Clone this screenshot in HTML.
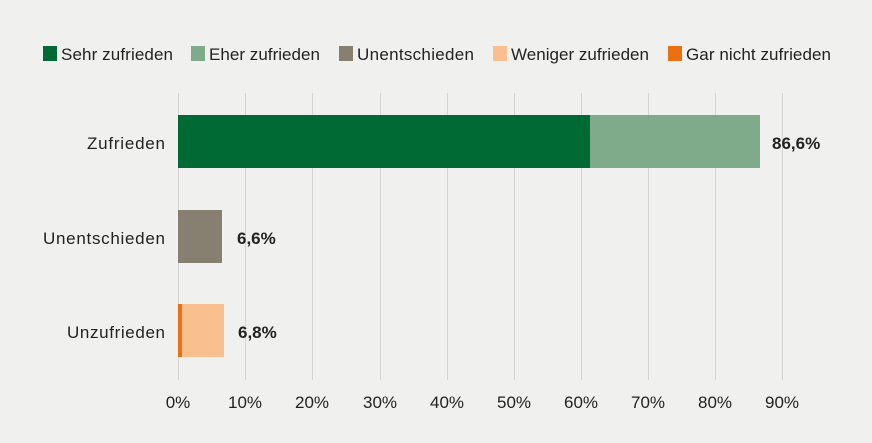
<!DOCTYPE html>
<html><head><style>
html,body{margin:0;padding:0;background:#f0f1ef;}
svg{display:block;font-family:"Liberation Sans",sans-serif;}
</style></head><body>
<svg width="872" height="443" viewBox="0 0 872 443">
<rect width="872" height="443" fill="#f0f1ef"/>
<g font-size="17" fill="#222">
<rect x="43" y="46" width="14" height="15" fill="#006a35"/><text x="61" y="60" textLength="112">Sehr zufrieden</text>
<rect x="191" y="46" width="14" height="15" fill="#80ab8a"/><text x="209" y="60" textLength="111">Eher zufrieden</text>
<rect x="339" y="46" width="14" height="15" fill="#878070"/><text x="357" y="60" textLength="117">Unentschieden</text>
<rect x="493" y="46" width="14" height="15" fill="#f9bf8e"/><text x="511" y="60" textLength="138">Weniger zufrieden</text>
<rect x="668" y="46" width="14" height="15" fill="#ea7012"/><text x="686" y="60" textLength="145">Gar nicht zufrieden</text>
</g>
<g stroke="#d4d4d0" stroke-width="1">
<line x1="178.5" y1="93" x2="178.5" y2="380"/>
<line x1="245.5" y1="93" x2="245.5" y2="380"/>
<line x1="312.5" y1="93" x2="312.5" y2="380"/>
<line x1="380.5" y1="93" x2="380.5" y2="380"/>
<line x1="447.5" y1="93" x2="447.5" y2="380"/>
<line x1="514.5" y1="93" x2="514.5" y2="380"/>
<line x1="581.5" y1="93" x2="581.5" y2="380"/>
<line x1="648.5" y1="93" x2="648.5" y2="380"/>
<line x1="715.5" y1="93" x2="715.5" y2="380"/>
<line x1="782.5" y1="93" x2="782.5" y2="380"/>
</g>
<rect x="178" y="115" width="412" height="53" fill="#006a35"/>
<rect x="590" y="115" width="170" height="53" fill="#80ab8a"/>
<rect x="178" y="210" width="44" height="53" fill="#878070"/>
<rect x="178" y="304" width="4" height="53" fill="#ea7012"/>
<rect x="182" y="304" width="42" height="53" fill="#f9bf8e"/>
<g font-size="17" fill="#222">
<text x="87" y="149" textLength="78">Zufrieden</text>
<text x="43" y="244" textLength="122">Unentschieden</text>
<text x="67" y="338" textLength="98">Unzufrieden</text>
</g>
<g font-size="17" fill="#222" font-weight="bold">
<text x="772" y="149">86,6%</text>
<text x="237" y="244">6,6%</text>
<text x="238" y="338">6,8%</text>
</g>
<g font-size="17" fill="#222" text-anchor="middle">
<text x="178" y="408">0%</text><text x="245" y="408">10%</text><text x="312" y="408">20%</text>
<text x="380" y="408">30%</text><text x="447" y="408">40%</text><text x="514" y="408">50%</text>
<text x="581" y="408">60%</text><text x="648" y="408">70%</text><text x="715" y="408">80%</text>
<text x="782" y="408">90%</text>
</g>
</svg>
</body></html>
